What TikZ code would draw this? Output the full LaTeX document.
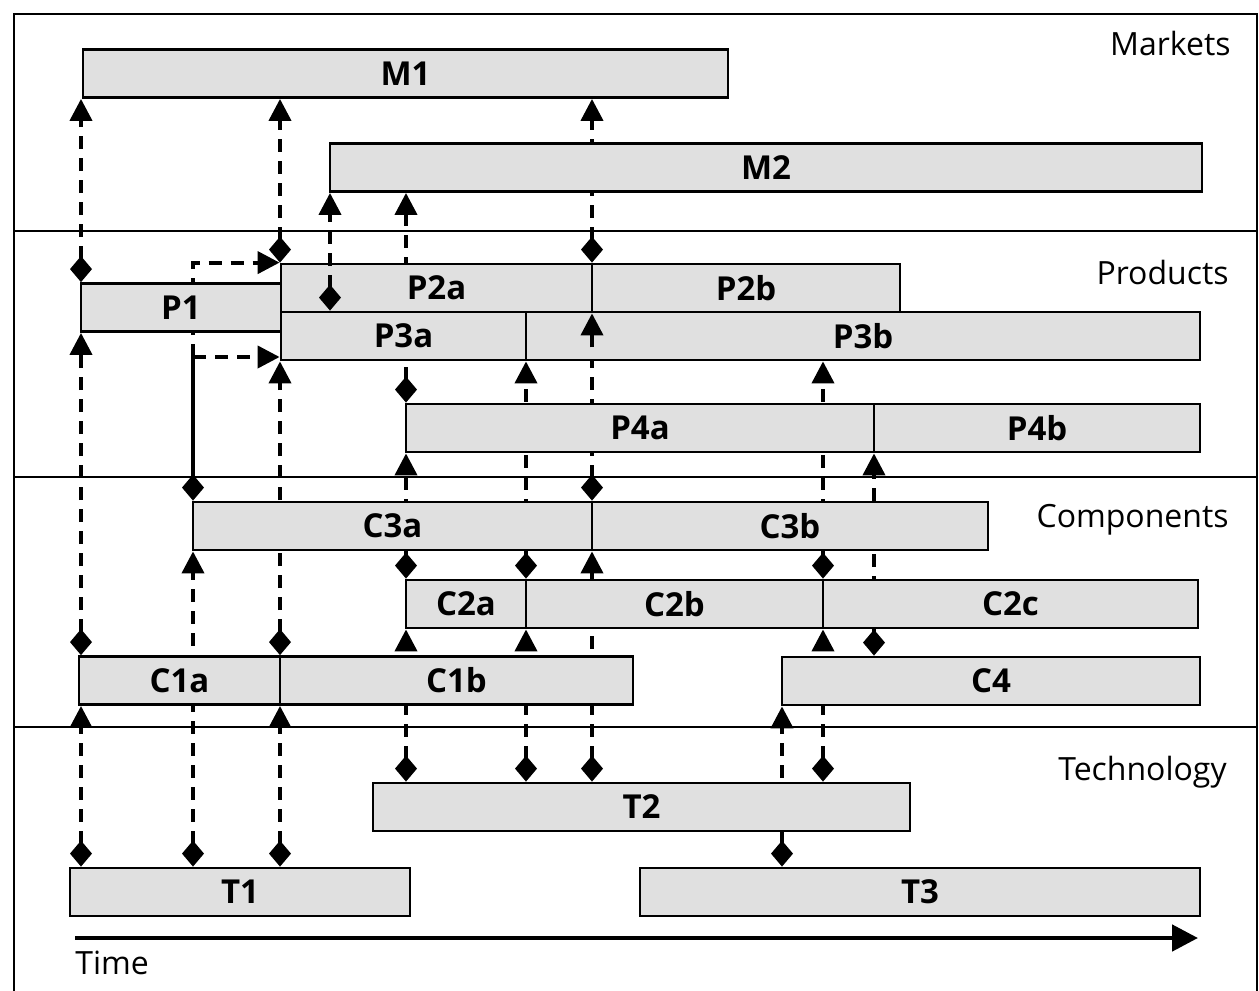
\documentclass[tikz,border=0pt]{standalone}
\usepackage{fontspec}
\setmainfont{Open Sans}
\usetikzlibrary{arrows.meta,calc}
\pgfdeclarelayer{background}
\pgfsetlayers{background,main}
\tikzset{src/.tip={Diamond[width=11pt,length=13pt]},
  dst/.tip={Triangle[width=11pt,length=11pt]}}

\begin{document}
\begin{tikzpicture}[x=0.5pt,y=-0.5pt,
    bar/.style={draw,line width=1.4pt,fill=black!12,minimum height=24pt,inner sep=0pt,font=\fontsize{16.5}{19}\selectfont\bfseries},
    band/.style={font=\fontsize{16}{19}\selectfont,inner sep=0pt},
    link/.style={line width=2pt,dash pattern=on 6.5pt off 4.5pt,arrows={src-dst}}]
        \useasboundingbox (0,0) rectangle (1259,991);
        \draw[line width=1.2pt] (14,991) -- (14,14) -- (1257,14) -- (1257,991);
        \draw[line width=1.4pt] (14,231) -- (1257,231);
        \draw[line width=1.4pt] (14,477) -- (1257,477);
        \draw[line width=1.4pt] (14,727) -- (1257,727);
        \node[band,anchor=base east] (mkt) at (1231,55) {Markets};
        \node[band,anchor=base east] (prd) at (1229,284) {Products};
        \node[band,anchor=base east] (cmp) at (1229,527) {Components};
        \node[band,anchor=base east] (tec) at (1227,780) {Technology};
        % markets
        \node[bar,minimum width=322.5pt] (M1) at (405.5,73.5) {M1};
        \node[bar,minimum width=436pt] (M2) at (766,167.5) {M2};
        % products
        \node[bar,minimum width=100pt] (P1) at (181,307.5) {P1};
        \node[bar,minimum width=155.5pt] (P2a) at (436.5,288) {P2a};
        \node[bar,minimum width=154pt] (P2b) at (746,288) {P2b};
        \node[bar,minimum width=122.5pt] (P3a) at (403.5,336) {P3a};
        \node[bar,minimum width=337pt] (P3b) at (863,336) {P3b};
        \node[bar,minimum width=234pt] (P4a) at (640,428) {P4a};
        \node[bar,minimum width=163pt] (P4b) at (1037,428) {P4b};
        % components
        \node[bar,minimum width=199.5pt] (C3a) at (392.5,526) {C3a};
        \node[bar,minimum width=198pt] (C3b) at (790,526) {C3b};
        \node[bar,minimum width=60pt] (C2a) at (466,604) {C2a};
        \node[bar,minimum width=148.5pt] (C2b) at (674.5,604) {C2b};
        \node[bar,minimum width=187.5pt] (C2c) at (1010.5,604) {C2c};
        \node[bar,minimum width=100.5pt] (C1a) at (179.5,680.5) {C1a};
        \node[bar,minimum width=176.5pt] (C1b) at (456.5,680.5) {C1b};
        \node[bar,minimum width=209pt] (C4) at (991,681) {C4};
        % technology
        \node[bar,minimum width=268.5pt] (T2) at (641.5,807) {T2};
        \node[bar,minimum width=170pt] (T1) at (240,892) {T1};
        \node[bar,minimum width=280pt] (T3) at (920,892) {T3};
        % time axis
        \coordinate (t0) at (75,938);
        \coordinate (t1) at (1198,938);
        \draw[line width=2.4pt,-{Triangle[width=13pt,length=13pt]}] (t0) -- (t1);
        \node[band,anchor=base west] (tim) at (75,974) {Time};
        % columns of the links
        \coordinate (x1) at (81,0);
        \coordinate (x2) at (193,0);
        \coordinate (x3) at (280,0);
        \coordinate (x4) at (330,0);
        \coordinate (x5) at (406,0);
        \coordinate (x6) at (526,0);
        \coordinate (x7) at (592,0);
        \coordinate (x8) at (782,0);
        \coordinate (x9) at (823,0);
        \coordinate (x10) at (874,0);
        \coordinate (j1) at (193,357);
        \begin{pgfonlayer}{background}
        \draw[link] (T1.north -| x1) -- (C1a.south -| x1);
        \draw[link] (C1a.north -| x1) -- (P1.south -| x1);
        \draw[link] (P1.north -| x1) -- (M1.south -| x1);
        \draw[link] (T1.north -| x2) -- (C3a.south -| x2);
        \draw[link,solid,arrows={src-}] (C3a.north -| x2) -- (j1);
        \draw[link,arrows={-dst}] (j1) -- (j1 -| P3a.west);
        \draw[link,arrows={-dst}] (j1) |- (P2a.north west);
        \draw[link] (T1.north -| x3) -- (C1b.south -| x3);
        \draw[link] (C1b.north -| x3) -- (P3a.south -| x3);
        \draw[link] (P2a.north -| x3) -- (M1.south -| x3);
        \draw[link] (T2.north -| x5) -- (C2a.south -| x5);
        \draw[link] (C2a.north -| x5) -- (P4a.south -| x5);
        \draw[link] (P4a.north -| x5) -- (M2.south -| x5);
        \draw[link] (T2.north -| x6) -- (C2b.south -| x6);
        \draw[link] (C2b.north -| x6) -- (P3b.south -| x6);
        \draw[link] (T2.north -| x7) -- (C3b.south -| x7);
        \draw[link] (C3b.north -| x7) -- (P2b.south -| x7);
        \draw[link] (P2b.north -| x7) -- (M1.south -| x7);
        \draw[link] (T3.north -| x8) -- (C4.south -| x8);
        \draw[link] (T2.north -| x9) -- (C2c.south -| x9);
        \draw[link] (C2c.north -| x9) -- (P3b.south -| x9);
        \draw[link] (C4.north -| x10) -- (P4b.south -| x10);
        \end{pgfonlayer}
        \draw[link] (P3a.north -| x4) -- (M2.south -| x4);
        \draw[link,solid,arrows={-dst}] ($(P2b.south -| x7)+(0,34)$) -- (P2b.south -| x7);
    \end{tikzpicture}
\end{document}
